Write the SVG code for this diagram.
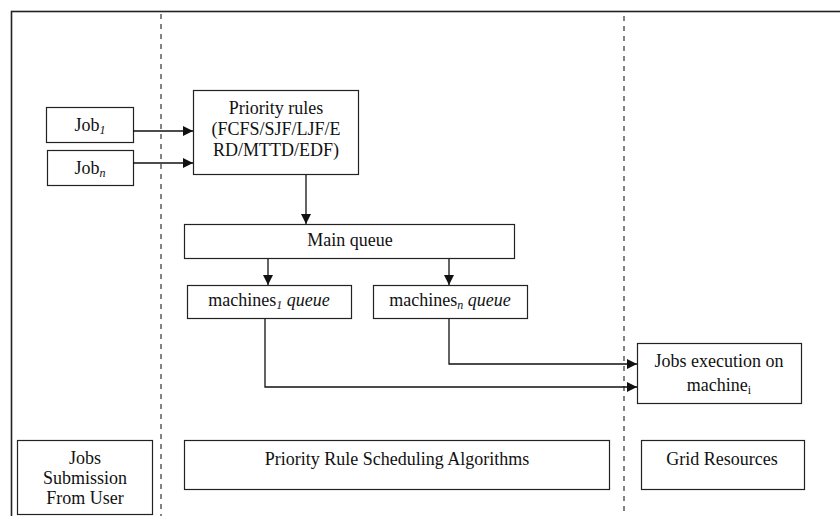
<svg xmlns="http://www.w3.org/2000/svg" width="840" height="516" viewBox="0 0 840 516">
<style>
.box{fill:#fff;stroke:#222;stroke-width:1.2}
.t{font-family:"Liberation Serif","Times New Roman",serif;font-size:18px;fill:#111;text-anchor:middle}
.c{stroke:#111;stroke-width:1.3;fill:none}
.d{stroke:#333;stroke-width:1.2;stroke-dasharray:5,5;fill:none}
.s{font-size:12px;font-style:italic}
</style>
<defs>
<marker id="ah" markerWidth="10" markerHeight="10" refX="10" refY="5" orient="auto" markerUnits="userSpaceOnUse">
<path d="M0,0 L10,5 L0,10 Z" fill="#111"/>
</marker>
</defs>
<rect x="0" y="0" width="840" height="516" fill="#fff"/>
<rect x="11.5" y="11.5" width="840" height="520" fill="none" stroke="#222" stroke-width="1.6"/>
<g id="dividers">
<line class="d" x1="161" y1="14" x2="161" y2="516"/>
<line class="d" x1="624" y1="16" x2="624" y2="516"/>
</g>
<g id="job1"><rect class="box" x="46.5" y="107.5" width="87" height="35"/>
<text class="t" x="90" y="131">Job<tspan class="s" dy="3">1</tspan></text></g>
<g id="jobn"><rect class="box" x="47.5" y="150.5" width="86" height="35"/>
<text class="t" x="90" y="174">Job<tspan class="s" dy="3">n</tspan></text></g>
<g id="priority"><rect class="box" x="193.5" y="90.5" width="165" height="84"/>
<text class="t" x="276" y="114">Priority rules</text>
<text class="t" x="276" y="135">(FCFS/SJF/LJF/E</text>
<text class="t" x="276" y="156">RD/MTTD/EDF)</text></g>
<g id="mainqueue"><rect class="box" x="184.5" y="224.5" width="330" height="34"/>
<text class="t" x="350" y="246">Main queue</text></g>
<g id="m1queue"><rect class="box" x="187.5" y="285.5" width="164" height="33"/>
<text class="t" x="269" y="306">machines<tspan class="s" dy="3">1</tspan><tspan dy="-3" font-style="italic"> queue</tspan></text></g>
<g id="mnqueue"><rect class="box" x="373.5" y="285.5" width="154" height="33"/>
<text class="t" x="450" y="306">machines<tspan class="s" dy="3">n</tspan><tspan dy="-3" font-style="italic"> queue</tspan></text></g>
<g id="exec"><rect class="box" x="637.5" y="343.5" width="164" height="60"/>
<text class="t" x="719" y="367">Jobs execution on</text>
<text class="t" x="719" y="391">machine<tspan font-size="12px" dy="3">i</tspan></text></g>
<g id="submission"><rect class="box" x="17.5" y="440.5" width="135" height="74"/>
<text class="t" x="85" y="464">Jobs</text>
<text class="t" x="85" y="484">Submission</text>
<text class="t" x="85" y="504">From User</text></g>
<g id="algorithms"><rect class="box" x="184.5" y="440.5" width="425" height="49"/>
<text class="t" x="397" y="465">Priority Rule Scheduling Algorithms</text></g>
<g id="grid"><rect class="box" x="641.5" y="440.5" width="163" height="49"/>
<text class="t" x="722" y="465">Grid Resources</text></g>
<g id="connectors">
<line class="c" x1="133" y1="131" x2="193" y2="131" marker-end="url(#ah)"/>
<line class="c" x1="133" y1="163" x2="193" y2="163" marker-end="url(#ah)"/>
<line class="c" x1="306" y1="175" x2="306" y2="224" marker-end="url(#ah)"/>
<line class="c" x1="268" y1="259" x2="268" y2="285" marker-end="url(#ah)"/>
<line class="c" x1="449" y1="259" x2="449" y2="285" marker-end="url(#ah)"/>
<polyline class="c" points="449,319 449,364 637,364" marker-end="url(#ah)"/>
<polyline class="c" points="265,319 265,387 637,387" marker-end="url(#ah)"/>
</g>
</svg>
